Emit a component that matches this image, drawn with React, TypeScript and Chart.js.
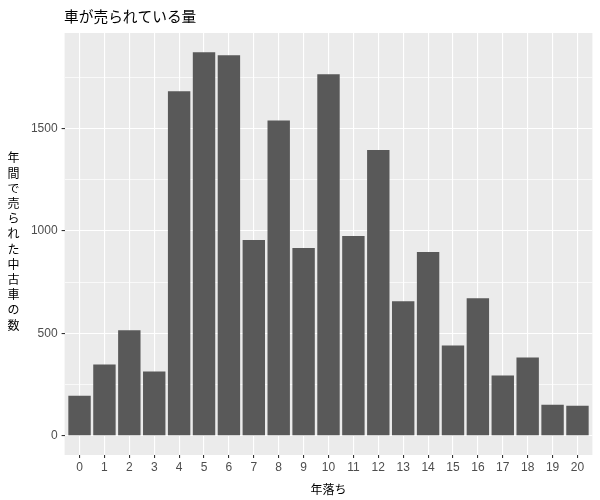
import React, { useEffect, useRef } from "react";
import { Chart, registerables } from "chart.js";

Chart.register(...registerables);

const ages = [0, 1, 2, 3, 4, 5, 6, 7, 8, 9, 10, 11, 12, 13, 14, 15, 16, 17, 18, 19, 20];
const counts = [196, 348, 515, 314, 1682, 1873, 1858, 956, 1540, 917, 1765, 975, 1396, 657, 897, 441, 672, 294, 382, 152, 147];
const yTicks = [0, 250, 500, 750, 1000, 1250, 1500, 1750];
const titleText = "車が売られている量";
const xTitle = "年落ち";
const yTitle = "年間で売られた中古車の数";

const CJK = '"Noto Sans CJK JP", "Noto Sans", sans-serif';
const NUM = '"Liberation Sans", Arial, sans-serif';

export default function App() {
  const ref = useRef<HTMLCanvasElement | null>(null);

  useEffect(() => {
    if (!ref.current) return;
    const maxV = Math.max(...counts);
    const bgPlugin = {
      id: "ggbg",
      beforeDraw(chart: any) {
        const { ctx, chartArea } = chart;
        ctx.save();
        ctx.fillStyle = "#ffffff";
        ctx.fillRect(0, 0, chart.width, chart.height);
        ctx.fillStyle = "#EBEBEB";
        ctx.fillRect(chartArea.left, chartArea.top, chartArea.right - chartArea.left, chartArea.bottom - chartArea.top);
        ctx.restore();
      },
      afterDraw(chart: any) {
        const { ctx, chartArea } = chart;
        ctx.save();
        ctx.fillStyle = "#000000";
        ctx.font = `14.7px ${CJK}`;
        ctx.textAlign = "left";
        ctx.textBaseline = "middle";
        ctx.fillText(titleText, chartArea.left - 0.5, 16);
        ctx.font = `12px ${CJK}`;
        ctx.textAlign = "center";
        ctx.fillText(xTitle, (chartArea.left + chartArea.right) / 2, 489);
        const chars = Array.from(yTitle);
        const step = 15.2;
        const midY = (chartArea.top + chartArea.bottom) / 2 - 2.5;
        const startY = midY - ((chars.length - 1) * step) / 2;
        chars.forEach((c, i) => {
          ctx.fillText(c, 13.5, startY + i * step);
        });
        ctx.restore();
      },
    };

    const chart = new Chart(ref.current, {
      type: "bar",
      data: {
        datasets: [
          {
            data: ages.map((a, i) => ({ x: a, y: counts[i] })),
            backgroundColor: "#595959",
            borderWidth: 0,
            barPercentage: 0.9,
            categoryPercentage: 1.0,
          },
        ],
      },
      options: {
        animation: false,
        responsive: false,
        devicePixelRatio: 1,
        layout: { padding: { left: 0, top: 33, right: 7.6, bottom: 0 } },
        plugins: { legend: { display: false }, tooltip: { enabled: false }, title: { display: false } },
        scales: {
          x: {
            type: "linear",
            offset: false,
            min: -0.6,
            max: ages.length - 1 + 0.6,
            afterBuildTicks: (scale: any) => {
              scale.ticks = ages.map((v) => ({ value: v }));
            },
            afterFit: (scale: any) => {
              scale.height = 45;
            },
            border: { display: false },
            grid: {
              offset: false,
              color: "#ffffff",
              lineWidth: 1.1,
              tickLength: 3,
              tickColor: "#333333",
              tickWidth: 1.1,
            },
            ticks: {
              color: "#4D4D4D",
              font: { family: NUM, size: 12 },
              padding: 2,
              maxRotation: 0,
              autoSkip: false,
              callback: (v: any) => String(v),
            },
          },
          y: {
            type: "linear",
            min: -maxV * 0.05,
            max: maxV * 1.05,
            afterBuildTicks: (scale: any) => {
              scale.ticks = yTicks.map((v) => ({ value: v }));
            },
            afterFit: (scale: any) => {
              scale.width = 64.6;
            },
            border: { display: false },
            grid: {
              color: "#ffffff",
              lineWidth: (ctx: any) => (ctx.tick && ctx.tick.value % 500 === 0 ? 1.1 : 0.7),
              tickLength: 3,
              tickColor: (ctx: any) => (ctx.tick && ctx.tick.value % 500 === 0 ? "#333333" : "rgba(0,0,0,0)"),
              tickWidth: 1.1,
            },
            ticks: {
              color: "#4D4D4D",
              font: { family: NUM, size: 12 },
              padding: 4,
              autoSkip: false,
              callback: (v: any) => (Number(v) % 500 === 0 ? String(v) : ""),
            },
          },
        },
      },
      plugins: [bgPlugin],
    });
    return () => chart.destroy();
  }, []);

  return (
    <div style={{ position: "fixed", left: 0, top: 0, width: 600, height: 500, background: "#fff" }}>
      <canvas ref={ref} width={600} height={500} style={{ display: "block", width: 600, height: 500 }} />
    </div>
  );
}
